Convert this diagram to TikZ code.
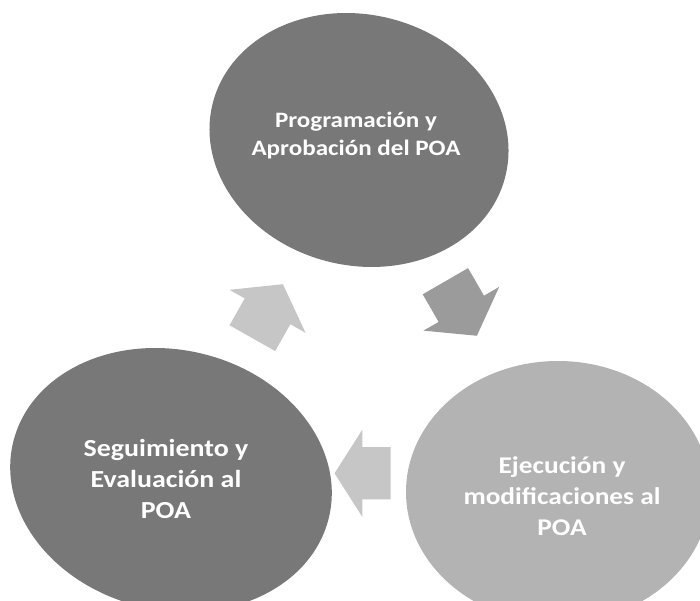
\documentclass[tikz,border=0pt]{standalone}
\usepackage{fontspec}
\setmainfont{Carlito}
\usetikzlibrary{shapes.geometric,shapes.arrows}
\definecolor{dkgray}{RGB}{120,120,120}
\definecolor{ltgray}{RGB}{179,179,179}
\definecolor{pale}{RGB}{198,198,198}
\definecolor{midgray}{RGB}{155,155,155}
\begin{document}
\begin{tikzpicture}[x=1pt,y=1pt,
  blob/.style={ellipse, inner sep=0pt},
  lbl/.style={text=white, align=center, xscale=1.14, transform shape},
  blk/.style={single arrow, inner xsep=0pt, inner ysep=26pt, anchor=tip, single arrow head extend=17.5pt}]
\useasboundingbox (0,0) rectangle (700,601);
\clip (0,0) rectangle (700,601);
\node[blob, fill=dkgray, minimum width=301.6pt, minimum height=250.8pt, rotate=-13.7] (prog) at (359,461){};
\node[blob, fill=ltgray, minimum width=304pt, minimum height=262pt] (ejec) at (558,109){};
\node[blob, fill=dkgray, minimum width=324.6pt, minimum height=260.2pt, rotate=-13.2] (segu) at (171,121){};
\node[lbl, font=\fontsize{22}{28.5}\selectfont\bfseries] (progt) at (356,465.5){Programación y\\Aprobación del POA};
\node[lbl, font=\fontsize{24}{31}\selectfont\bfseries] (eject) at (562,104.5){Ejecución y\\modificaciones al\\POA};
\node[lbl, font=\fontsize{24.5}{31}\selectfont\bfseries] (segut) at (166,121.7){Seguimiento y\\Evaluación al\\POA};
\node[blk, fill=midgray, minimum height=63pt, single arrow tip angle=109, rotate=-60] (ar0) at (477,265){};
\node[blk, fill=pale, minimum height=56pt, single arrow tip angle=115, rotate=180] (ar1) at (334.3,127.7){};
\node[blk, fill=pale, minimum height=62pt, single arrow tip angle=109, rotate=60.5] (ar2) at (283,317){};
\end{tikzpicture}
\end{document}
